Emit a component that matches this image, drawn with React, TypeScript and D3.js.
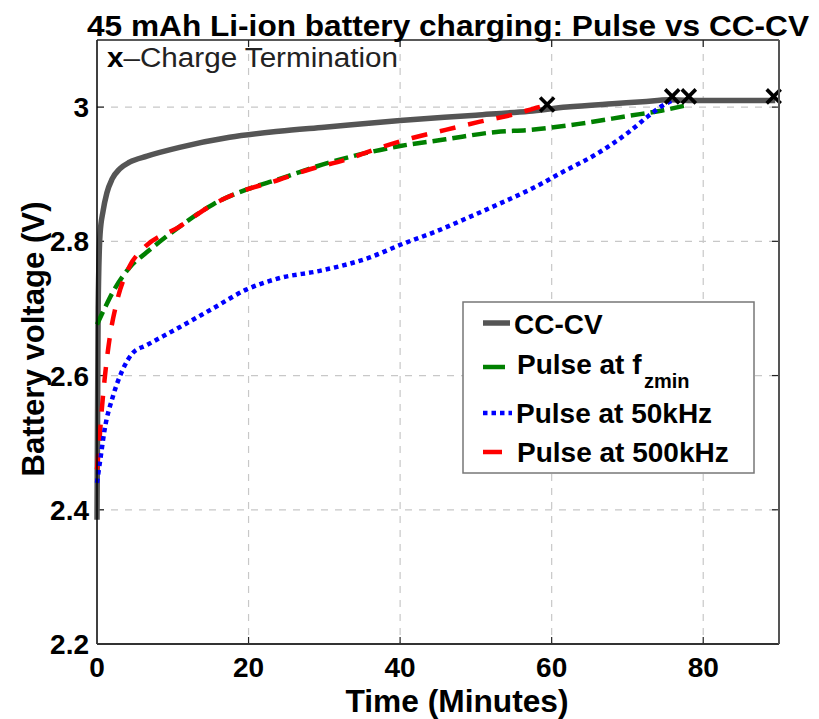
import React from "react";
import * as d3 from "d3";

// ---- Data ----
const ccT = [0, 0.15, 0.4, 0.8, 1.3, 2.0, 3.0, 4.3, 6.6, 10.9, 17.5, 24, 30, 40, 50, 57, 62, 68, 72, 75.5, 78, 84, 89.5];
const ccV = [2.385, 2.7, 2.81, 2.845, 2.872, 2.893, 2.908, 2.918, 2.927, 2.94, 2.955, 2.964, 2.97, 2.98, 2.988, 2.994, 3.0, 3.005, 3.008, 3.011, 3.01, 3.01, 3.01];

const fzT = [0, 1, 2.07, 4.3, 6.6, 10.9, 15.3, 19.7, 24.1, 28.5, 33.8, 40, 46, 52.7, 57, 63.6, 70.2, 74.6, 77.5];
const fzV = [2.676, 2.70, 2.724, 2.761, 2.784, 2.822, 2.855, 2.877, 2.893, 2.91, 2.927, 2.942, 2.952, 2.963, 2.966, 2.975, 2.987, 2.995, 3.002];

const k500T = [0, 0.3, 0.6, 1.0, 1.7, 2.6, 4.3, 6.0, 10.9, 15.3, 19.7, 22.7, 28, 32.9, 37.2, 41.6, 46, 50.4, 55.3, 58.3, 59.5];
const k500V = [2.46, 2.50, 2.545, 2.594, 2.658, 2.709, 2.763, 2.788, 2.822, 2.855, 2.877, 2.887, 2.907, 2.922, 2.939, 2.954, 2.966, 2.978, 2.99, 3.0, 3.003];

const k50T = [0, 0.5, 1.0, 2.1, 3.4, 4.75, 6.5, 10.9, 15.3, 19.7, 24, 29.4, 36, 40.3, 44.8, 49.1, 53.5, 58, 61.4, 65.9, 70.2, 72.8, 74.6, 76.3];
const k50V = [2.44, 2.48, 2.519, 2.569, 2.609, 2.634, 2.645, 2.672, 2.70, 2.728, 2.745, 2.756, 2.776, 2.796, 2.815, 2.836, 2.858, 2.882, 2.903, 2.93, 2.963, 2.987, 3.002, 3.012];

const termT = [59.4, 75.9, 78.1, 89.3];
const termV = [3.004, 3.016, 3.016, 3.016];

const xTicks = [0, 20, 40, 60, 80];
const yTicks = [2.2, 2.4, 2.6, 2.8, 3.0];
const yTickLabels = ["2.2", "2.4", "2.6", "2.8", "3"];

const seriesNames = ["CC-CV", "Pulse at f", "Pulse at 50kHz", "Pulse at 500kHz"];

export default function App() {
  const W = 819, H = 719;
  const left = 97, right = 779, top = 40, bottom = 644;
  const x = d3.scaleLinear().domain([0, 90]).range([left, right]);
  const y = d3.scaleLinear().domain([2.2, 3.1]).range([bottom, top]);

  const mk = (ts: number[], vs: number[]) =>
    d3.line<number>().x((_, i) => x(ts[i])).y((_, i) => y(vs[i])).curve(d3.curveMonotoneX)(ts) as string;

  const font = "'Liberation Sans', Arial, Helvetica, sans-serif";
  const tickLen = 7;

  return (
    <div style={{ position: "absolute", left: 0, top: 0 }}>
      <svg width={W} height={H} style={{ display: "block", background: "#fff" }} fontFamily={font}>
        <rect x={0} y={0} width={W} height={H} fill="#fff" />
        {/* grid */}
        {xTicks.filter((t) => t > 0).map((t) => (
          <line key={"gx" + t} x1={x(t)} x2={x(t)} y1={top} y2={bottom} stroke="#c8c8c8" strokeWidth={1.2} strokeDasharray="7,7" />
        ))}
        {yTicks.filter((t) => t > 2.2).map((t) => (
          <line key={"gy" + t} x1={left} x2={right} y1={y(t)} y2={y(t)} stroke="#c8c8c8" strokeWidth={1.2} strokeDasharray="7,7" />
        ))}
        {/* ticks inward on all sides */}
        {xTicks.filter((t) => t > 0).map((t) => (
          <g key={"tx" + t} stroke="#222" strokeWidth={1.2}>
            <line x1={x(t)} x2={x(t)} y1={bottom} y2={bottom - tickLen} />
            <line x1={x(t)} x2={x(t)} y1={top} y2={top + tickLen} />
          </g>
        ))}
        {yTicks.filter((t) => t > 2.2).map((t) => (
          <g key={"ty" + t} stroke="#222" strokeWidth={1.2}>
            <line x1={left} x2={left + tickLen} y1={y(t)} y2={y(t)} />
            <line x1={right} x2={right - tickLen} y1={y(t)} y2={y(t)} />
          </g>
        ))}

        {/* series */}
        <path d={mk(ccT, ccV)} fill="none" stroke="#555555" strokeWidth={5.5} strokeLinejoin="round" />
        <path d={mk(fzT, fzV)} fill="none" stroke="#008000" strokeWidth={4.5} strokeDasharray="14,6" />
        <path d={mk(k500T, k500V)} fill="none" stroke="#ff0000" strokeWidth={4.5} strokeDasharray="16,13" />
        <path d={mk(k50T, k50V)} fill="none" stroke="#0000ff" strokeWidth={4.5} strokeDasharray="4.5,4" />

        {/* termination markers */}
        {termT.map((t, i) => {
          const cx = x(t), cy = y(termV[i]), s = 7;
          return (
            <g key={"m" + i} stroke="#000" strokeWidth={3.6}>
              <line x1={cx - s} x2={cx + s} y1={cy - s} y2={cy + s} />
              <line x1={cx - s} x2={cx + s} y1={cy + s} y2={cy - s} />
            </g>
          );
        })}

        {/* axes box */}
        <line x1={left} x2={left} y1={top} y2={bottom} stroke="#000" strokeWidth={1.5} />
        <line x1={left} x2={right} y1={bottom} y2={bottom} stroke="#333" strokeWidth={2} />
        <line x1={left} x2={right} y1={top} y2={top} stroke="#222" strokeWidth={1.5} />
        <line x1={right} x2={right} y1={top} y2={bottom} stroke="#555" strokeWidth={2} />

        {/* tick labels */}
        {xTicks.map((t) => (
          <text key={"xl" + t} x={x(t)} y={677} textAnchor="middle" fontSize={28} fontWeight="bold" fill="#000">
            {t}
          </text>
        ))}
        {yTicks.map((t, i) => (
          <text key={"yl" + t} x={89} y={y(t) + 10} textAnchor="end" fontSize={28} fontWeight="bold" fill="#000">
            {yTickLabels[i]}
          </text>
        ))}

        {/* axis labels */}
        <text x={457} y={712} textAnchor="middle" fontSize={31} fontWeight="bold" textLength={223} lengthAdjust="spacingAndGlyphs">
          Time (Minutes)
        </text>
        <text transform="translate(44,339) rotate(-90)" textAnchor="middle" fontSize={31} fontWeight="bold" textLength={275} lengthAdjust="spacingAndGlyphs">
          Battery voltage (V)
        </text>

        {/* title */}
        <text x={448} y={36} textAnchor="middle" fontSize={29} fontWeight="bold" textLength={722} lengthAdjust="spacingAndGlyphs">
          45 mAh Li-ion battery charging: Pulse vs CC-CV
        </text>

        {/* annotation */}
        <text x={107} y={67} fontSize={27} fill="#222" textLength={291} lengthAdjust="spacingAndGlyphs">
          <tspan fontWeight="bold" fill="#000">x</tspan>
          <tspan>–Charge Termination</tspan>
        </text>

        {/* legend */}
        <rect x={463} y={302} width={291} height={171} fill="#fff" stroke="#777" strokeWidth={1.5} />
        <line x1={483} x2={510} y1={323} y2={323} stroke="#555555" strokeWidth={5.5} />
        <line x1={483} x2={505} y1={367} y2={367} stroke="#008000" strokeWidth={4.5} />
        <line x1={483} x2={512} y1={413} y2={413} stroke="#0000ff" strokeWidth={4.5} strokeDasharray="4.5,4" />
        <line x1={483} x2={502} y1={452} y2={452} stroke="#ff0000" strokeWidth={4.5} />
        <text x={514} y={334} fontSize={28} fontWeight="bold">{seriesNames[0]}</text>
        <text x={517} y={374} fontSize={28} fontWeight="bold">
          {seriesNames[1]}
        </text>
        <text x={644} y={388} fontSize={20} fontWeight="bold">zmin</text>
        <text x={516} y={423} fontSize={28} fontWeight="bold">{seriesNames[2]}</text>
        <text x={517} y={462} fontSize={28} fontWeight="bold">{seriesNames[3]}</text>
      </svg>
    </div>
  );
}
